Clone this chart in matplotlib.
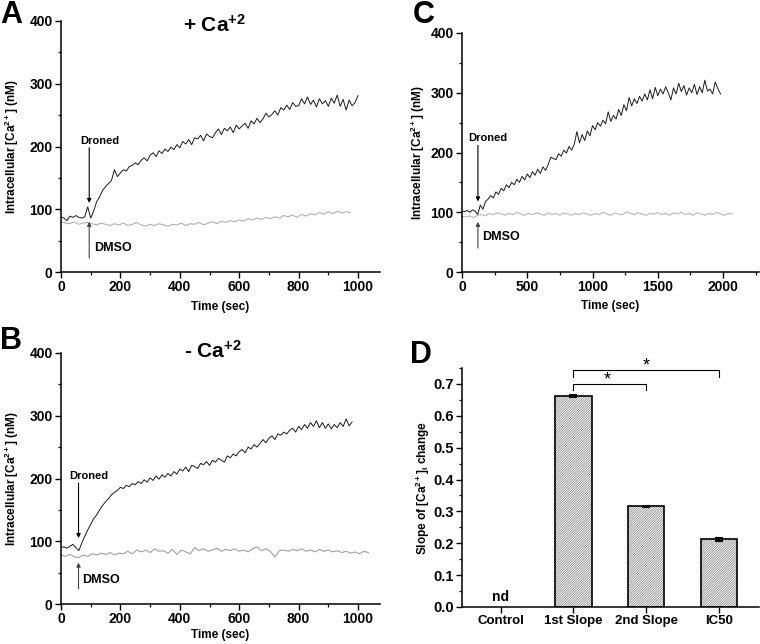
import numpy as np
import matplotlib
matplotlib.use("Agg")
import matplotlib.pyplot as plt
from matplotlib.ticker import MultipleLocator, FormatStrFormatter

plt.rcParams["font.family"] = "sans-serif"
plt.rcParams["font.sans-serif"] = ["Liberation Sans", "DejaVu Sans"]
plt.rcParams["font.weight"] = "bold"
plt.rcParams["axes.labelweight"] = "bold"
plt.rcParams["mathtext.fontset"] = "custom"
plt.rcParams["mathtext.rm"] = "Liberation Sans:bold"
plt.rcParams["mathtext.bf"] = "Liberation Sans:bold"
plt.rcParams["mathtext.it"] = "Liberation Sans:bold"
plt.rcParams["mathtext.default"] = "bf"
plt.rcParams["hatch.linewidth"] = 0.5

# ---- panel A : + Ca+2 ----
a_drone_t = np.arange(0, 1001, 10)
a_drone = [88, 86, 82, 89, 87, 90, 87, 86, 88, 104, 86, 97, 112, 120, 130, 136, 141, 146, 163, 152,
           158, 163, 161, 168, 170, 174, 171, 178, 182, 177, 186, 190, 184, 193, 189, 196, 192, 199, 195, 203,
           198, 208, 204, 211, 203, 214, 212, 218, 209, 220, 216, 214, 222, 228, 219, 229, 225, 231, 222, 234,
           228, 233, 237, 229, 241, 236, 245, 238, 244, 253, 247, 251, 257, 250, 262, 258, 266, 259, 270, 264,
           265, 276, 268, 279, 267, 274, 263, 276, 268, 273, 264, 277, 269, 282, 264, 275, 258, 274, 265, 270,
           281]
a_dmso_t = np.arange(0, 976, 15)
a_dmso = [80, 78, 77, 80, 76, 78, 79, 77, 75, 78, 76, 74, 77, 75, 78, 74, 76, 79, 75, 73,
          76, 74, 77, 75, 73, 76, 75, 78, 74, 77, 76, 79, 75, 78, 80, 77, 81, 79, 82, 80,
          83, 81, 85, 83, 86, 84, 87, 85, 88, 86, 90, 88, 91, 87, 92, 89, 93, 91, 95, 92,
          96, 93, 97, 94, 96, 95]

# ---- panel B : - Ca+2 ----
b_drone_t = np.arange(0, 981, 10)
b_drone = [90, 91, 89, 92, 95, 90, 85, 97, 108, 118,
           127, 136, 142, 150, 157, 163, 168, 174, 178, 181,
           186, 184, 189, 187, 192, 190, 195, 192, 198, 194,
           201, 197, 204, 199, 206, 202, 208, 204, 211, 207,
           215, 212, 218, 211, 221, 219, 216, 224, 222, 227,
           221, 229, 226, 232, 229, 226, 236, 233, 239, 236,
           243, 246, 241, 250, 247, 254, 250, 256, 262, 257,
           264, 268, 262, 271, 269, 274, 271, 277, 280, 274,
           283, 278, 286, 280, 289, 283, 292, 281, 289, 280,
           287, 279, 286, 281, 289, 283, 295, 284, 290]
b_dmso_t = np.arange(0, 1036, 15)
b_dmso = [78, 76, 79, 75, 74, 78, 76, 80, 78, 81,
          79, 82, 78, 81, 80, 84, 80, 86, 83, 86,
          82, 88, 84, 85, 81, 87, 79, 86, 83, 80,
          90, 85, 88, 84, 86, 89, 84, 87, 85, 88,
          84, 86, 83, 88, 91, 85, 88, 84, 75, 85,
          86, 84, 87, 85, 88, 84, 86, 83, 87, 84,
          86, 83, 85, 82, 84, 81, 83, 80, 84, 82]

# ---- panel C ----
c_drone_t = np.arange(0, 1981, 20)
c_drone = [102, 101, 103, 100, 104, 102, 96, 112, 105, 118,
           122, 128, 124, 134, 130, 140, 136, 146, 141, 150,
           146, 155, 150, 160, 154, 164, 158, 168, 162, 172,
           165, 176, 170, 180, 192, 190, 188, 198, 194, 204,
           199, 210, 204, 214, 235, 216, 230, 220, 236, 228,
           245, 238, 250, 244, 254, 248, 268, 252, 262, 256,
           272, 262, 280, 270, 292, 278, 290, 282, 294, 286,
           298, 288, 305, 290, 309, 295, 306, 298, 310, 300,
           288, 308, 298, 316, 302, 312, 296, 308, 300, 314,
           297, 310, 300, 321, 303, 306, 298, 318, 307, 298]
c_dmso_t = np.arange(0, 2071, 30)
c_dmso = [93, 92, 94, 91, 95, 96, 94, 98, 96, 99,
          97, 95, 98, 96, 100, 97, 95, 98, 96, 99,
          97, 95, 99, 96, 98, 95, 99, 97, 95, 98,
          96, 99, 97, 95, 98, 96, 100, 97, 95, 99,
          97, 96, 101, 98, 96, 99, 97, 95, 98, 97,
          99, 96, 98, 95, 99, 97, 100, 96, 98, 95,
          99, 97, 95, 98, 96, 100, 97, 95, 98, 97]

# ---- panel D ----
d_labels = ["Control", "1st Slope", "2nd Slope", "IC50"]
d_values = [0.662, 0.316, 0.212]
d_errors = [0.003, 0.002, 0.004]

fig = plt.figure(figsize=(7.6, 6.44), dpi=100)

W, H = 760.0, 644.0
axA = fig.add_axes([61 / W, 1 - 272 / H, 319 / W, 251 / H])
axB = fig.add_axes([61 / W, 1 - 604 / H, 319 / W, 251 / H])
axC = fig.add_axes([462 / W, 1 - 272 / H, 297 / W, 239 / H])
axD = fig.add_axes([462 / W, 1 - 607 / H, 297 / W, 239 / H])

ylab = r"Intracellular [Ca$^{2+}$] (nM)"


def style(ax):
    for s in ["top", "right"]:
        ax.spines[s].set_visible(False)
    for s in ["left", "bottom"]:
        ax.spines[s].set_linewidth(1.1)
    ax.tick_params(which="major", direction="out", length=4, width=1, labelsize=10, pad=2)
    ax.tick_params(which="minor", direction="out", length=2.5, width=0.9)


def trace_panel(ax, td, yd, tc, yc, dmso_col, xmax, xmaj, xmin, lpad):
    ax.plot(td, yd, color="#1a1a1a", lw=0.7)
    ax.plot(tc, yc, color=dmso_col, lw=0.8)
    ax.set_xlim(0, xmax)
    ax.set_ylim(0, 400)
    ax.xaxis.set_major_locator(MultipleLocator(xmaj))
    ax.xaxis.set_minor_locator(MultipleLocator(xmin))
    ax.yaxis.set_major_locator(MultipleLocator(100))
    ax.yaxis.set_minor_locator(MultipleLocator(50))
    ax.set_ylabel(ylab, fontsize=8.5)
    ax.set_xlabel("Time (sec)", fontsize=8.5, labelpad=lpad)
    style(ax)


def arrows(ax, t, d_top, d_head, m_bot, m_head, d_text, m_text):
    ax.annotate("", xy=(t, d_head), xytext=(t, d_top),
                arrowprops=dict(arrowstyle="-|>", lw=0.8, color="black", mutation_scale=6,
                                shrinkA=0, shrinkB=0))
    ax.annotate("", xy=(t, m_head), xytext=(t, m_bot),
                arrowprops=dict(arrowstyle="-|>", lw=0.8, color="#444444", mutation_scale=6,
                                shrinkA=0, shrinkB=0))
    ax.text(d_text[0], d_text[1], "Droned", fontsize=8, ha="center", va="center")
    ax.text(m_text[0], m_text[1], "DMSO", fontsize=9, ha="left", va="center")


trace_panel(axA, a_drone_t, a_drone, a_dmso_t, a_dmso, "#b0b0b0", 1074, 200, 100, 5)
arrows(axA, 95, 198, 110, 22, 80, (132, 209), (112, 38))
axA.text(0.48, 0.955, r"+ Ca$^{+2}$", transform=axA.transAxes, fontsize=15,
         ha="center", va="baseline")
axA.yaxis.set_label_coords(-0.126, 0.5)

trace_panel(axB, b_drone_t, b_drone, b_dmso_t, b_dmso, "#a0a0a0", 1074, 200, 100, 2)
arrows(axB, 59, 193, 105, 24, 66, (95, 204), (70, 38))
axB.text(0.476, 0.98, r"- Ca$^{+2}$", transform=axB.transAxes, fontsize=15,
         ha="center", va="baseline")
axB.yaxis.set_label_coords(-0.126, 0.5)

trace_panel(axC, c_drone_t, c_drone, c_dmso_t, c_dmso, "#b8b8b8", 2275, 500, 250, 4)
arrows(axC, 122, 212, 118, 40, 84, (200, 224), (154, 58))
axC.yaxis.set_label_coords(-0.117, 0.5)

# ---- bar panel ----
xpos = np.arange(1, 4)
axD.bar(xpos, d_values, width=0.5, color="white", edgecolor="#7a7a7a", hatch="/" * 14, lw=0)
axD.bar(xpos, d_values, width=0.5, fill=False, edgecolor="black", lw=1.2)
axD.errorbar(xpos, d_values, yerr=d_errors, fmt="none", ecolor="black",
             elinewidth=1.5, capsize=3, capthick=1.5)
axD.text(0, 0.03, "nd", fontsize=10, ha="center", va="center")
axD.set_xlim(-0.53, 3.55)
axD.set_ylim(0, 0.75)
axD.set_xticks(np.arange(4))
axD.set_xticklabels(d_labels)
axD.yaxis.set_major_locator(MultipleLocator(0.1))
axD.yaxis.set_minor_locator(MultipleLocator(0.05))
axD.yaxis.set_major_formatter(FormatStrFormatter("%.1f"))
style(axD)
axD.tick_params(axis="y", labelsize=10.5)
axD.tick_params(axis="x", labelsize=9.5)
axD.set_ylabel(r"Slope of [Ca$^{2+}$]$_i$ change", fontsize=8.5)
axD.yaxis.set_label_coords(-0.10, 0.5)

# significance brackets
axD.plot([1, 1, 2, 2], [0.681, 0.70, 0.70, 0.681], color="black", lw=0.8, clip_on=False)
axD.plot([1, 1, 3, 3], [0.722, 0.744, 0.744, 0.722], color="black", lw=0.8, clip_on=False)
axD.text(1.47, 0.712, "*", fontsize=13, ha="center", va="center", fontweight="normal")
axD.text(2.0, 0.756, "*", fontsize=13, ha="center", va="center", fontweight="normal")

# panel letters
for lab, x, y in [("A", 0.0, 1.0), ("B", 0.0, 1 - 326 / H), ("C", 413 / W, 1.0), ("D", 410 / W, 1 - 340 / H)]:
    fig.text(x, y, lab, fontsize=22, fontweight="bold", ha="left", va="top")

fig.savefig("out.png", dpi=100)
